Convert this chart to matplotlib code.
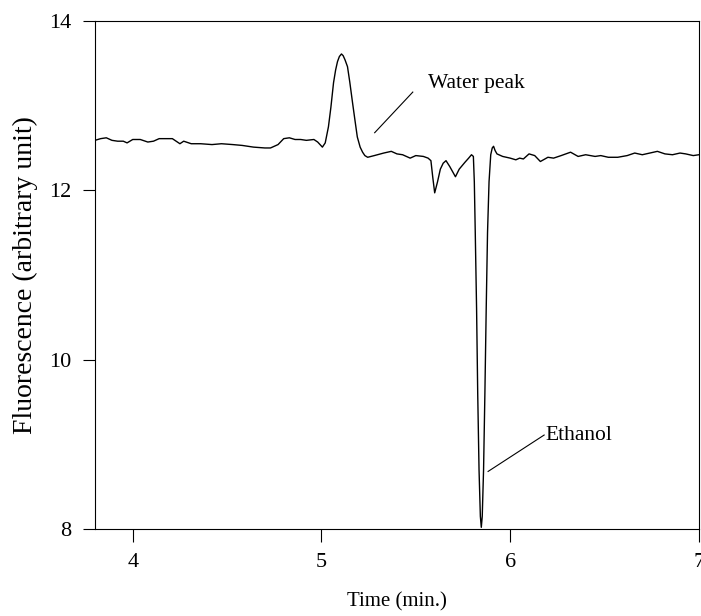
import matplotlib
matplotlib.use("Agg")
import matplotlib.pyplot as plt

# Chromatogram trace
time_min = [
    3.80, 3.83, 3.86, 3.89, 3.92, 3.95, 3.97, 4.00, 4.04, 4.08,
    4.11, 4.14, 4.18, 4.21, 4.25, 4.27, 4.31, 4.36, 4.42, 4.47,
    4.53, 4.58, 4.64, 4.70, 4.73, 4.77, 4.80, 4.83, 4.86, 4.89,
    4.92, 4.96, 4.98, 5.005,
    5.02, 5.037, 5.05, 5.064, 5.075, 5.085, 5.095, 5.106, 5.115, 5.125,
    5.138, 5.15, 5.165, 5.178, 5.19, 5.205, 5.218, 5.23, 5.245,
    5.28, 5.33, 5.37, 5.40, 5.43, 5.47, 5.50, 5.54, 5.565,
    5.58, 5.59, 5.60, 5.615, 5.63, 5.645, 5.66, 5.68, 5.71, 5.73,
    5.76, 5.78, 5.795, 5.805,
    5.81, 5.815, 5.822, 5.828, 5.835, 5.842, 5.847, 5.852, 5.859, 5.866,
    5.873, 5.880, 5.888, 5.897, 5.905, 5.912, 5.92, 5.93,
    5.96, 6.00, 6.03, 6.05, 6.07, 6.10, 6.13, 6.16, 6.20, 6.23,
    6.27, 6.32, 6.36, 6.40, 6.45, 6.48, 6.52, 6.57, 6.62, 6.66,
    6.70, 6.74, 6.78, 6.82, 6.86, 6.90, 6.93, 6.97, 7.00,
]
fluorescence = [
    12.59, 12.61, 12.62, 12.59, 12.58, 12.58, 12.56, 12.60, 12.60, 12.57,
    12.58, 12.61, 12.61, 12.61, 12.55, 12.58, 12.55, 12.55, 12.54, 12.55,
    12.54, 12.53, 12.51, 12.50, 12.50, 12.54, 12.61, 12.62, 12.60, 12.60,
    12.59, 12.60, 12.57, 12.51,
    12.56, 12.75, 12.98, 13.27, 13.42, 13.52, 13.58, 13.61, 13.59, 13.54,
    13.46, 13.28, 13.03, 12.82, 12.63, 12.51, 12.45, 12.41, 12.39,
    12.41, 12.44, 12.46, 12.43, 12.42, 12.38, 12.41, 12.40, 12.38,
    12.35, 12.15, 11.97, 12.10, 12.25, 12.32, 12.35, 12.28, 12.16, 12.25,
    12.33, 12.38, 12.42, 12.40,
    12.10, 11.50, 10.60, 9.60, 8.70, 8.15, 8.02, 8.15, 8.70, 9.60,
    10.60, 11.50, 12.10, 12.42, 12.50, 12.52, 12.47, 12.43,
    12.40, 12.38, 12.36, 12.38, 12.37, 12.43, 12.41, 12.34, 12.39, 12.38,
    12.41, 12.45, 12.40, 12.42, 12.40, 12.41, 12.39, 12.39, 12.41, 12.44,
    12.42, 12.44, 12.46, 12.43, 12.42, 12.44, 12.43, 12.41, 12.42,
]

x_ticks = [4, 5, 6, 7]
y_ticks = [8, 10, 12, 14]

plt.rcParams['font.family'] = ['Liberation Serif', 'DejaVu Serif']

fig = plt.figure(figsize=(7.01, 6.16), dpi=100)
ax = fig.add_axes([0.1355, 0.1412, 0.8615, 0.8248])

ax.plot(time_min, fluorescence, color='black', linewidth=1.0)

ax.set_xlim(3.8, 7.0)
ax.set_ylim(8, 14)
ax.set_xticks(x_ticks)
ax.set_yticks(y_ticks)
ax.tick_params(direction='out', length=9, width=0.8, labelsize=16, pad=8)

for side in ['top', 'right', 'left', 'bottom']:
    ax.spines[side].set_linewidth(0.8)

ax.set_xlabel("Time (min.)", fontsize=15, labelpad=15)
ax.set_ylabel("Fluorescence (arbitrary unit)", fontsize=20, labelpad=8)

# Annotations with plain leader lines
ax.plot([5.282, 5.484], [12.68, 13.16], color='black', linewidth=0.8)
ax.text(5.564, 13.26, "Water peak", fontsize=15.5, va='center', ha='left')

ax.plot([5.883, 6.18], [8.68, 9.11], color='black', linewidth=0.8)
ax.text(6.185, 9.10, "Ethanol", fontsize=15.5, va='center', ha='left')

fig.savefig("out.png", dpi=100)
